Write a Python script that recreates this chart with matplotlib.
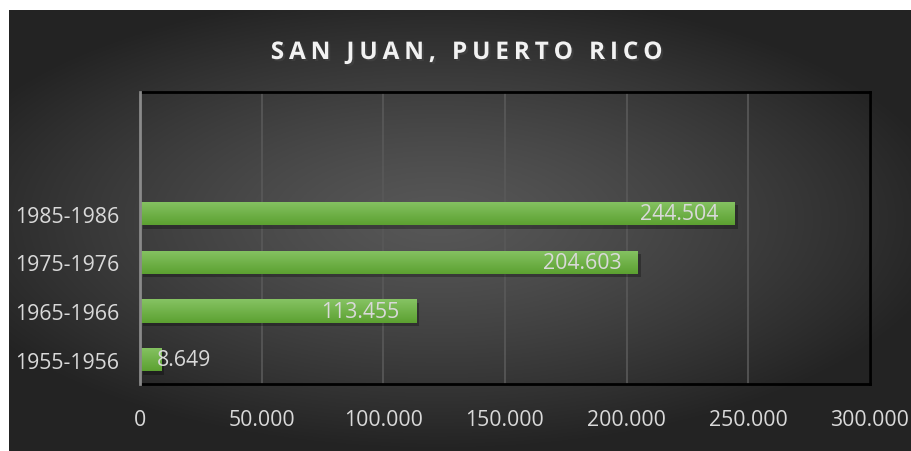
import matplotlib.pyplot as plt
import matplotlib.patheffects as pe
from matplotlib.ticker import FuncFormatter
import numpy as np

plt.rcParams['font.family'] = ['Open Sans', 'DejaVu Sans']

# data
periods = ['1955-1956', '1965-1966', '1975-1976', '1985-1986']
values = [8649, 113455, 204603, 244504]
slots = periods + ['', '']          # two empty category slots on top
title = 'SAN JUAN, PUERTO RICO'
xticks = [0, 50000, 100000, 150000, 200000, 250000, 300000]

txt = '#d9d9d9'

def dotfmt(v, pos=None):
    return '{:,.0f}'.format(v).replace(',', '.')

fig = plt.figure(figsize=(9.12, 4.52), dpi=100, facecolor='white')

# dark radial gradient chart area
bg = fig.add_axes([9/912, 0, 903/912, 441/452])
yy, xx = np.mgrid[-1:1:300j, -1:1:600j]
r = np.sqrt(((xx + 0.05) / 1.1) ** 2 + ((yy + 0.05) / 1.0) ** 2)
shade = np.clip(0.34 - 0.19 * r ** 1.3, 0.14, 0.34)
bg.imshow(np.dstack([shade] * 3), aspect='auto', extent=[0, 1, 0, 1])
bg.set_axis_off()

ax = fig.add_axes([140/912, 1 - 385/452, 730/912, 292/452])
ax.set_facecolor('none')
ypos = np.arange(len(periods))
bars = ax.barh(ypos, values, height=0.48, color='#6db142', zorder=3,
               path_effects=[pe.SimplePatchShadow(offset=(2, -2.5), alpha=0.28, shadow_rgbFace='black'),
                             pe.Normal()])

# vertical gradient inside each bar
grad = np.linspace(0, 1, 50).reshape(-1, 1)
top = np.array([0x86, 0xc3, 0x63]) / 255
bot = np.array([0x5c, 0xa1, 0x31]) / 255
gimg = (top[None, None, :] * (1 - grad[..., None]) + bot[None, None, :] * grad[..., None])
for b in bars:
    x0, y0 = b.get_x(), b.get_y()
    im = ax.imshow(gimg, extent=[x0, x0 + b.get_width(), y0, y0 + b.get_height()],
                   aspect='auto', zorder=4, origin='upper')
    im.set_clip_path(b)

for y, v in zip(ypos, values):
    if v > 30000:
        ax.annotate(dotfmt(v), (v, y), xytext=(-12, 0), textcoords='offset points',
                    ha='right', va='center', color=txt, fontsize=15.3, zorder=5)
    else:
        ax.annotate(dotfmt(v), (v, y), xytext=(-3, 0), textcoords='offset points',
                    ha='left', va='center', color=txt, fontsize=15.3, zorder=5)

ax.set_xlim(0, 300000)
ax.set_ylim(-0.5, len(slots) - 0.5)
ax.set_yticks(np.arange(len(slots)))
ax.set_yticklabels(slots)
ax.set_xticks(xticks)
ax.xaxis.set_major_formatter(FuncFormatter(dotfmt))
ax.tick_params(axis='both', length=0, colors=txt, labelsize=15.3)
ax.tick_params(axis='x', pad=18)
ax.tick_params(axis='y', pad=15)
ax.grid(axis='x', color='#595959', linewidth=1.2, zorder=1)
for s in ['top', 'right', 'bottom']:
    ax.spines[s].set_color('black')
    ax.spines[s].set_linewidth(2)
ax.spines['left'].set_color('#8a8a8a')
ax.spines['left'].set_linewidth(2)
ax.spines['left'].set_zorder(6)

spaced = '\u2009'.join(title)
fig.text(466/912, 1 - 54/452, spaced, ha='center', va='center', color='#f2f2f2',
         fontsize=17.5, fontweight='bold',
         path_effects=[pe.withSimplePatchShadow(offset=(1.5, -1.5), alpha=0.5)])

fig.savefig('out.png', dpi=100, facecolor='white')
